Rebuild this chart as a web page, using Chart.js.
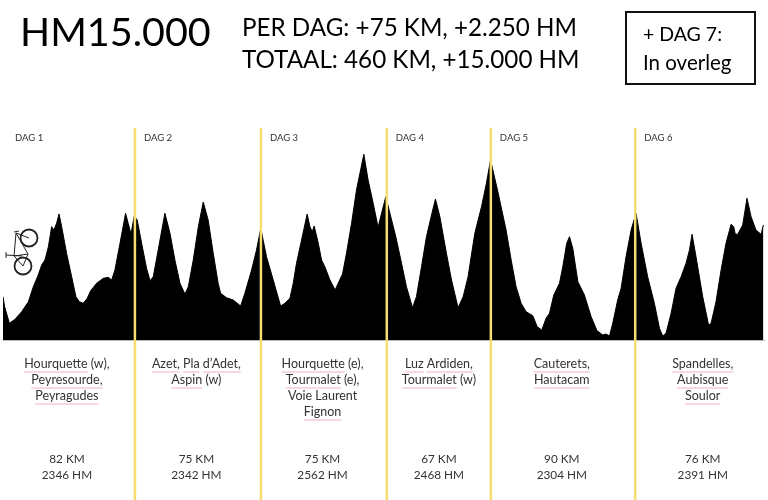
<!DOCTYPE html>
<html>
<head>
<meta charset="utf-8">
<style>
html, body { margin: 0; padding: 0; background: #fff; }
canvas { display: block; }
</style>
<script src="https://cdn.jsdelivr.net/npm/chart.js@4/dist/chart.umd.js"></script>
</head>
<body>
<canvas id="profile" width="768" height="500"></canvas>
<script>
const routeKm = [0, 1, 3.9, 7.3, 11.4, 15.5, 18.5, 21.5, 23.6, 25.6, 27.7, 29.7, 31.1, 32.7, 34.2, 35.8, 38.8, 41.9, 44.5, 46.6, 49, 51.4, 53.5, 57.1, 61.2, 64.2, 66.3, 68.3, 71.4, 74.8, 76.4, 78.1, 80.1, 81.9, 84.6, 87.6, 89.7, 91.7, 94.7, 98.8, 101.9, 104.9, 108, 111, 113.1, 116.1, 119.2, 122.2, 125.2, 128.3, 131.3, 132.8, 136.4, 140.5, 145, 147.6, 151.7, 154.7, 157.3,
    160.8, 164.9, 169.4, 172, 175.1, 177.1, 179.1, 182.2, 185.6, 187.3, 188.7, 189.9, 192.4, 194.4, 196.4, 199.5, 202.7, 204.5, 207.2, 209.6, 212.7, 215.7, 220.2, 222.8, 225.9, 228.9, 231, 233.6, 236.1, 239.7, 243.2, 246.2, 249.9, 252.3, 255.4, 258.4, 261.5, 263.9, 266.6, 270.6, 273.7, 277.7, 280.8, 283.8, 287.9, 292, 295, 297.5,
    302, 307, 310.1, 313.1, 316.2, 319.2, 323.3, 326, 328.8, 331.4, 333.5, 336.1, 339.6, 341.6, 344, 345.7, 347.7, 350.8, 354.8, 358.9, 362.5, 366, 368, 370.1, 372.1, 375.1, 377.2, 380.2, 383.3, 386.3, 389.4, 393.4, 397.5, 400.6, 402.6, 404.6, 407.7, 410.7, 413.8, 416.8, 418.9, 420.5, 422.9, 427, 430.6, 432.1, 435.1, 438.2, 441.2, 444.3, 445.9, 446.9, 448.3, 451.4, 454, 456.5, 459.5, 462.6, 464];
const elevationM = [433, 333, 167, 207, 283, 383, 533, 650, 750, 800, 933, 1133, 1100, 1167, 1260, 1133, 867, 633, 433, 383, 367, 417, 493, 567, 617, 627, 600, 700, 967, 1267, 1167, 1060, 1240, 1200, 967, 717, 593, 633, 900, 1267, 1067, 800, 567, 460, 533, 800, 1133, 1380, 1200, 867, 567, 467, 423, 400, 340, 467, 700, 900, 1117,
    833, 600, 340, 367, 417, 567, 767, 1000, 1260, 1133, 1083, 1140, 967, 800, 733, 600, 500, 567, 660, 867, 1167, 1500, 1857, 1600, 1367, 1127, 1267, 1433, 1267, 1033, 767, 533, 323, 433, 733, 1033, 1250, 1410, 1233, 867, 600, 323, 433, 633, 1067, 1333, 1567, 1800,
    1483, 1100, 800, 533, 367, 283, 243, 133, 100, 217, 267, 450, 567, 733, 967, 1033, 917, 583, 450, 233, 93, 50, 60, 40, 167, 400, 517, 833, 1100, 1267, 967, 633, 367, 117, 40, 67, 267, 517, 633, 767, 900, 1057, 833, 433, 147, 167, 383, 700, 967, 1157, 1133, 1057, 1057, 1150, 1417, 1233, 1100, 1057, 1150];

const dayLabels = ["DAG 1", "DAG 2", "DAG 3", "DAG 4", "DAG 5", "DAG 6"];
const dayStartKm = [0, 80.5, 157.4, 234.2, 297.7, 385.8];
const dayCentreKm = [39, 118, 195, 266, 341, 427];
const dayClimbs = [
    ["Hourquette (w),", "Peyresourde,", "Peyragudes"],
    ["Azet, Pla d\u2019Adet,", "Aspin (w)"],
    ["Hourquette (e),", "Tourmalet (e),", "Voie Laurent", "Fignon"],
    ["Luz Ardiden,", "Tourmalet (w)"],
    ["Cauterets,", "Hautacam"],
    ["Spandelles,", "Aubisque", "Soulor"]
];
const dayDistance = ["82 KM", "75 KM", "75 KM", "67 KM", "90 KM", "76 KM"];
const dayClimbed = ["2346 HM", "2342 HM", "2562 HM", "2468 HM", "2304 HM", "2391 HM"];
const plainWords = ["(w),", "(w)", "(e),", "Voie", "Laurent"];

const FONT = "Lato, 'Open Sans', sans-serif";

function drawText(ctx, text, x, y, size, align = "left", color = "#000") {
    ctx.font = `${size}px ${FONT}`;
    ctx.textAlign = align;
    ctx.textBaseline = "middle";
    ctx.fillStyle = color;
    ctx.fillText(text, x, y);
}

// squiggly-looking pink line the spell checker left under the names
function drawClimbLine(ctx, line, x, y) {
    drawText(ctx, line, x, y, 12.5, "center", "#333");
    const total = ctx.measureText(line).width;
    let cursor = x - total / 2;
    ctx.strokeStyle = "#eeb4bc";
    ctx.lineWidth = 1;
    line.split(" ").forEach((word) => {
        const wordWidth = ctx.measureText(word).width;
        if (!plainWords.includes(word)) {
            ctx.beginPath();
            ctx.moveTo(cursor, y + 8);
            ctx.lineTo(cursor + wordWidth, y + 8);
            ctx.stroke();
        }
        cursor += ctx.measureText(word + " ").width;
    });
}

function drawBike(ctx) {
    ctx.save();
    ctx.strokeStyle = "#222";
    ctx.lineWidth = 1.8;
    [[29, 238], [23, 266]].forEach(([cx, cy]) => {
        ctx.beginPath();
        ctx.arc(cx, cy, 8.5, 0, Math.PI * 2);
        ctx.stroke();
    });
    ctx.lineWidth = 1;
    const frame = [[[29, 238], [16, 233]], [[16, 233], [28, 254]], [[28, 254], [23, 266]], [[16, 233], [14, 256]], [[14, 256], [28, 254]], [[14, 256], [23, 266]], [[6, 255], [22, 256]], [[6, 252], [6, 258]], [[14, 232], [19, 231]]];
    frame.forEach(([a, b]) => {
        ctx.beginPath();
        ctx.moveTo(a[0], a[1]);
        ctx.lineTo(b[0], b[1]);
        ctx.stroke();
    });
    ctx.restore();
}

const overlayPlugin = {
    id: "overlay",
    afterDatasetsDraw(chart) {
        const { ctx, scales: { x, y } } = chart;
        ctx.save();

        // baseline
        ctx.strokeStyle = "#bbb";
        ctx.lineWidth = 1;
        ctx.beginPath();
        ctx.moveTo(x.left, y.bottom + 0.5);
        ctx.lineTo(x.right, y.bottom + 0.5);
        ctx.stroke();

        // day separators run from above the profile to the bottom of the page
        ctx.strokeStyle = "#f7dc6f";
        ctx.lineWidth = 2.5;
        dayStartKm.slice(1).forEach((km) => {
            const px = x.getPixelForValue(km);
            ctx.beginPath();
            ctx.moveTo(px, 128);
            ctx.lineTo(px, 500);
            ctx.stroke();
        });

        dayLabels.forEach((label, i) => {
            const px = i === 0 ? 15 : x.getPixelForValue(dayStartKm[i]) + 9;
            drawText(ctx, label, px, 138, 9.5, "left", "#333");
        });

        dayClimbs.forEach((lines, i) => {
            const px = x.getPixelForValue(dayCentreKm[i]);
            lines.forEach((line, j) => drawClimbLine(ctx, line, px, 364 + j * 16));
            drawText(ctx, dayDistance[i], px, 459, 11.8, "center", "#333");
            drawText(ctx, dayClimbed[i], px, 475, 11.8, "center", "#333");
        });

        drawBike(ctx);

        // header
        drawText(ctx, "HM15.000", 20, 33, 39.5);
        drawText(ctx, "PER DAG: +75 KM, +2.250 HM", 242, 28, 24.2);
        drawText(ctx, "TOTAAL: 460 KM, +15.000 HM", 242, 60, 24.2);
        ctx.strokeStyle = "#111";
        ctx.lineWidth = 2;
        ctx.strokeRect(626, 12, 129, 72);
        drawText(ctx, "+ DAG 7:", 643, 35, 19.5);
        drawText(ctx, "In overleg", 643, 63, 20.5);

        ctx.restore();
    }
};

new Chart(document.getElementById("profile"), {
    type: "line",
    data: {
        datasets: [{
            data: routeKm.map((km, i) => ({ x: km, y: elevationM[i] })),
            borderColor: "#000",
            backgroundColor: "#000",
            borderWidth: 1,
            fill: "origin",
            tension: 0,
            pointRadius: 0
        }]
    },
    options: {
        responsive: false,
        animation: false,
        layout: { padding: { left: 3, right: 3, top: 120, bottom: 160 } },
        plugins: { legend: { display: false }, tooltip: { enabled: false } },
        scales: {
            x: { type: "linear", min: 0, max: 465, display: false },
            y: { min: 0, max: 2200, display: false }
        }
    },
    plugins: [overlayPlugin]
});
</script>
</body>
</html>
